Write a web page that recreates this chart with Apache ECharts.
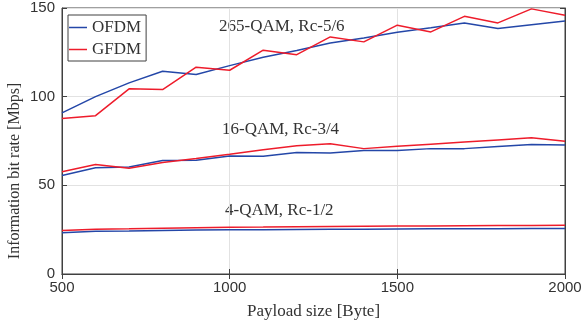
<!DOCTYPE html>
<html>
<head>
<meta charset="utf-8">
<script src="https://cdn.jsdelivr.net/npm/echarts@6/dist/echarts.min.js"></script>
<style>html,body{margin:0;padding:0;background:#fff}#c{width:585px;height:327px}</style>
</head>
<body>
<div id="c"></div>
<script>
var payload = [500,600,700,800,900,1000,1100,1200,1300,1400,1500,1600,1700,1800,1900,2000];
var ofdm256 = [90.9,100,107.8,114.3,112.5,117.5,122.2,126,130.3,133.1,136.3,138.9,141.6,138.4,140.6,142.7];
var gfdm256 = [87.7,89.3,104.4,104,116.6,114.9,126.2,123.7,133.7,130.9,140.3,136.5,145.3,141.6,149.5,145.9];
var ofdm16 = [55.5,59.9,60.4,64,64.2,66.6,66.4,68.5,68.3,69.6,69.6,70.7,70.7,71.9,73,72.8];
var gfdm16 = [57.6,61.7,59.6,62.9,65.1,67.5,70,72.3,73.4,70.7,72,73.2,74.4,75.6,76.8,74.9];
var ofdm4 = [23.2,24.1,24.3,24.6,24.8,24.9,25,25.1,25.2,25.3,25.4,25.5,25.5,25.5,25.6,25.6];
var gfdm4 = [24.5,25.3,25.5,25.8,26.1,26.4,26.5,26.7,26.8,26.9,27,27.1,27.2,27.3,27.4,27.5];
var xTicks = [500,1000,1500,2000];
var yTicks = [0,50,100,150];
var annotations = ['265-QAM, Rc-5/6','16-QAM, Rc-3/4','4-QAM, Rc-1/2'];
var xTitle = 'Payload size [Byte]';
var yTitle = 'Information bit rate [Mbps]';

var BLUE = '#2447a8', RED = '#ee1c2b';
var SERIF = '"Liberation Serif", "DejaVu Serif", serif';
var SANS = '"Liberation Sans", Arial, sans-serif';
function pairs(v){ return payload.map(function(x,i){ return [x, v[i]]; }); }
function line(name, v, color){
  return {name:name, type:'line', data:pairs(v), showSymbol:false, symbol:'none',
    lineStyle:{color:color, width:1.5}, itemStyle:{color:color}, animation:false};
}
var chart = echarts.init(document.getElementById('c'), null, {renderer:'canvas'});
var axisLineStyle = {color:'#404040', width:1};
chart.setOption({
  animation:false,
  grid:{left:62, right:20, top:8, bottom:53, show:true, borderColor:'#404040', borderWidth:1,
        containLabel:false, outerBoundsMode:'none'},
  legend:{
    orient:'vertical', left:68, top:15,
    data:[{name:'OFDM', icon:'rect'},{name:'GFDM', icon:'rect'}],
    itemWidth:18, itemHeight:1.5, itemGap:5,
    padding:[4,5,3,1],
    backgroundColor:'#fff', borderColor:'#404040', borderWidth:1,
    textStyle:{fontFamily:SERIF, fontSize:17, color:'#333'}
  },
  xAxis:[{
    type:'value', min:xTicks[0], max:xTicks[xTicks.length-1], interval:500,
    name:xTitle, nameLocation:'middle', nameGap:29,
    nameTextStyle:{fontFamily:SERIF, fontSize:17, color:'#333'},
    axisLine:{show:true, lineStyle:axisLineStyle},
    axisTick:{show:true, inside:true, length:5, lineStyle:axisLineStyle},
    axisLabel:{fontFamily:SANS, fontSize:15, color:'#333', margin:6,
      formatter:function(v){ return String(v); }},
    splitLine:{show:true, lineStyle:{color:'#e2e2e2', width:1}}
  },{
    type:'value', position:'top', min:xTicks[0], max:xTicks[xTicks.length-1], interval:500,
    axisLine:{show:true, lineStyle:axisLineStyle},
    axisTick:{show:true, inside:true, length:5, lineStyle:axisLineStyle},
    axisLabel:{show:false}, splitLine:{show:false}
  }],
  yAxis:[{
    type:'value', min:yTicks[0], max:yTicks[yTicks.length-1], interval:50,
    axisLine:{show:true, lineStyle:axisLineStyle},
    axisTick:{show:true, inside:true, length:5, lineStyle:axisLineStyle},
    axisLabel:{fontFamily:SANS, fontSize:15, color:'#333', margin:7},
    splitLine:{show:true, lineStyle:{color:'#e2e2e2', width:1}}
  },{
    type:'value', position:'right', min:yTicks[0], max:yTicks[yTicks.length-1], interval:50,
    axisLine:{show:true, lineStyle:axisLineStyle},
    axisTick:{show:true, inside:true, length:5, lineStyle:axisLineStyle},
    axisLabel:{show:false}, splitLine:{show:false}
  }],
  graphic:[
    {type:'text', x:15, y:171, rotation:Math.PI/2,
      style:{text:yTitle, font:'16px '+SERIF, fill:'#333', align:'center', verticalAlign:'middle'}},
    {type:'text', left:219, top:18, style:{text:annotations[0], font:'17px '+SERIF, fill:'#333'}},
    {type:'text', left:222, top:121, style:{text:annotations[1], font:'17px '+SERIF, fill:'#333'}},
    {type:'text', left:225, top:202, style:{text:annotations[2], font:'17px '+SERIF, fill:'#333'}}
  ],
  series:[
    line('OFDM', ofdm256, BLUE),
    line('GFDM', gfdm256, RED),
    line('OFDM', ofdm16, BLUE),
    line('GFDM', gfdm16, RED),
    line('OFDM', ofdm4, BLUE),
    line('GFDM', gfdm4, RED)
  ]
});
</script>
</body>
</html>
